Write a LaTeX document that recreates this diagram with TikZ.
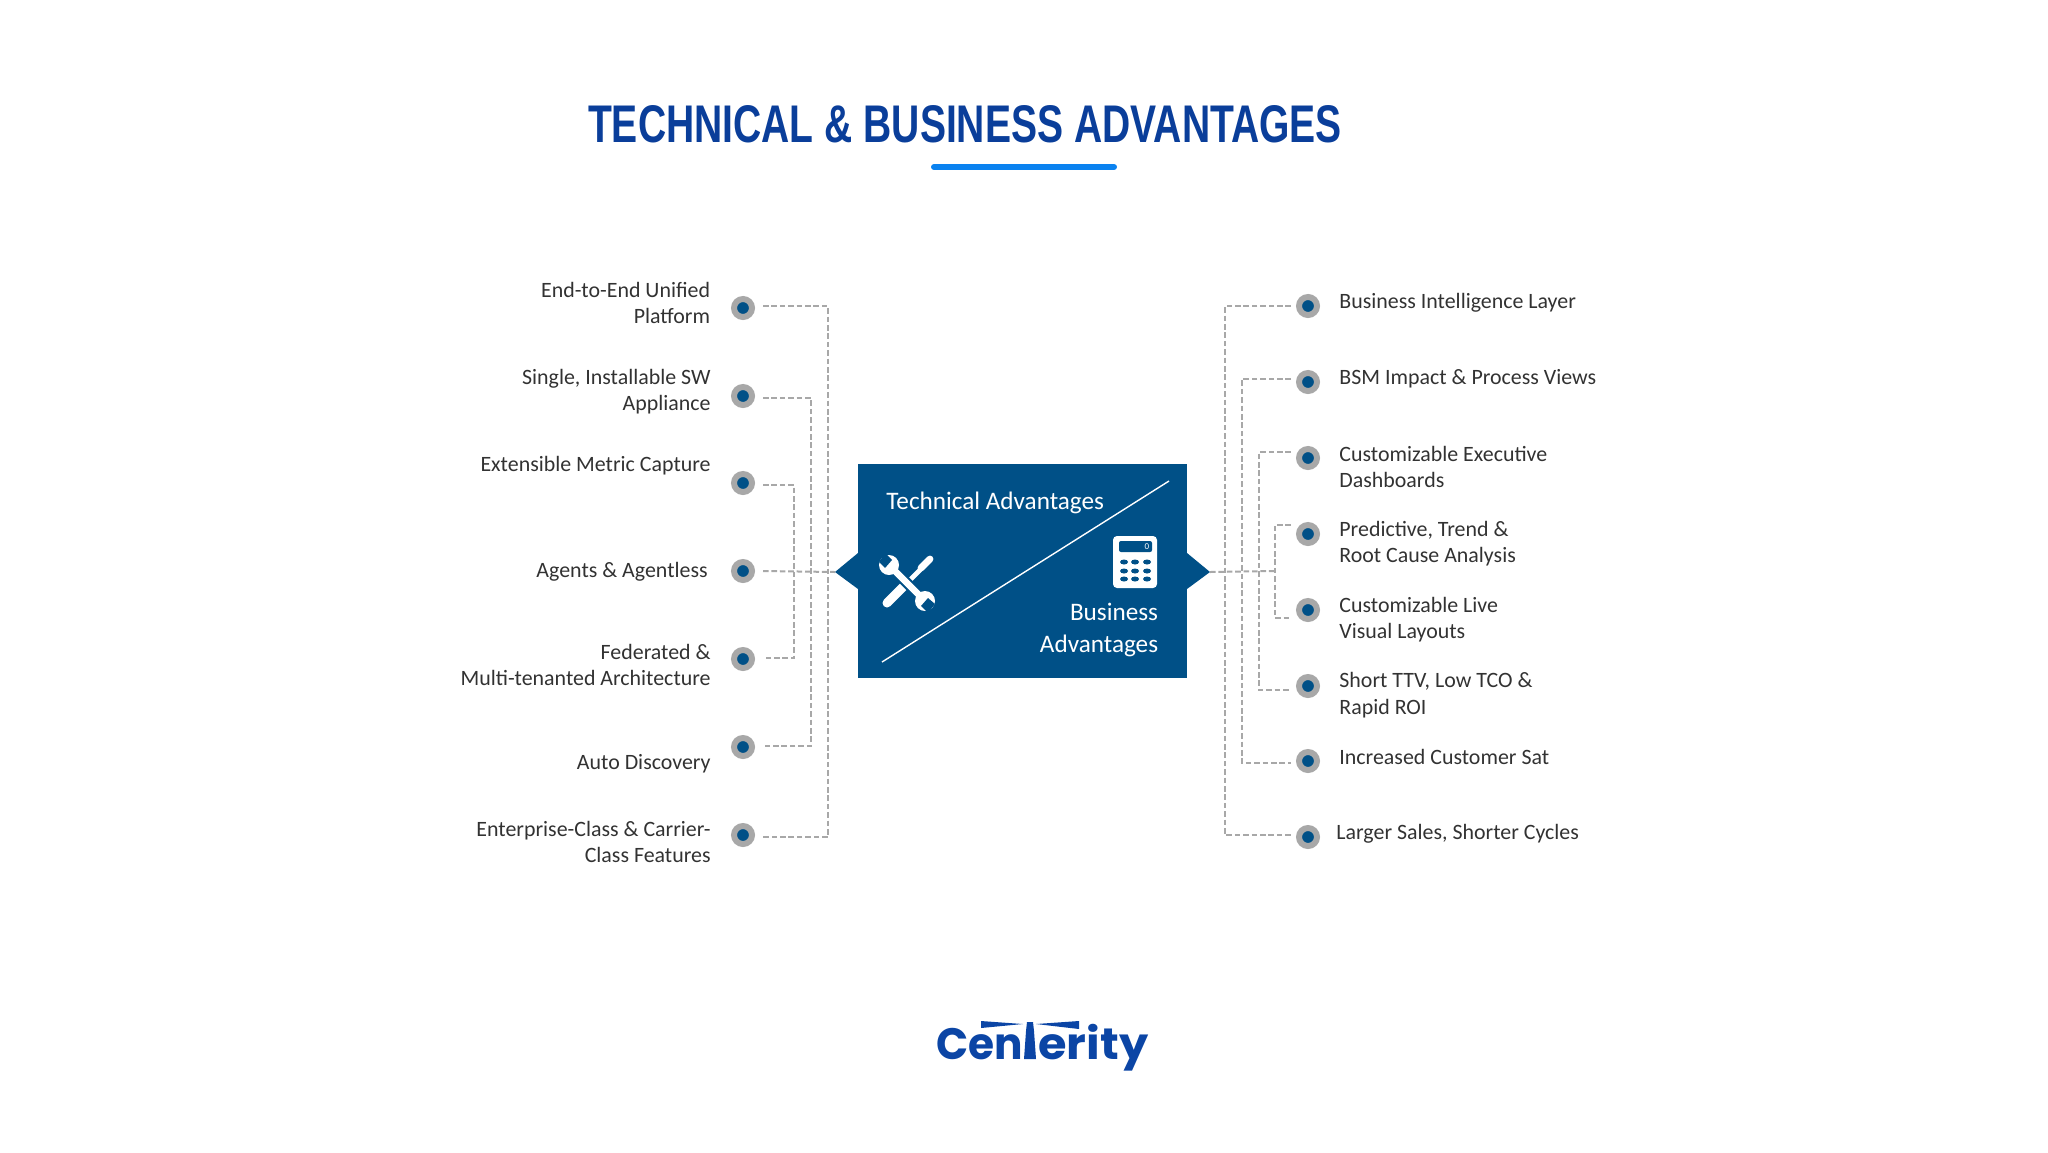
\documentclass[tikz,border=0pt]{standalone}
\usepackage{fontspec}
\usepackage{graphicx}
\setmainfont{Carlito}
\newfontfamily\titlefont[FakeStretch=0.737]{Liberation Sans}
\newfontfamily\logofont{Poppins}
\usepackage{tikz}
\definecolor{boxblue}{RGB}{0,80,135}
\definecolor{titleblue}{RGB}{10,62,154}
\definecolor{barblue}{RGB}{10,130,240}
\definecolor{logoblue}{RGB}{11,69,165}
\definecolor{linegray}{RGB}{168,168,168}
\definecolor{labelgray}{RGB}{50,50,50}
\tikzstyle{dot}=[circle,draw=linegray,line width=3pt,fill=boxblue,minimum size=9pt,inner sep=0pt]
\tikzstyle{link}=[linegray,line width=1pt,dash pattern=on 2.8pt off 1.4pt]
\tikzstyle{lefttext}=[anchor=east,align=right,text=labelgray,font=\fontsize{10.95}{13.2}\selectfont,inner sep=0pt]
\tikzstyle{righttext}=[anchor=west,align=left,text=labelgray,font=\fontsize{10.95}{13.2}\selectfont,inner sep=0pt]
\tikzstyle{boxtext}=[text=white,font=\fontsize{12.6}{15.7}\selectfont,inner sep=0pt]
\tikzstyle{logotext}=[text=logoblue,font=\logofont\bfseries\fontsize{22}{22}\selectfont,inner sep=0pt,anchor=base west]
\begin{document}
\begin{tikzpicture}[x=0.5pt,y=-0.5pt]
\useasboundingbox (0,0) rectangle (2048,1152);
% title
\node (title) [text=titleblue,font=\titlefont\bfseries\fontsize{26.5}{26.5}\selectfont,inner sep=0pt] at (965,124) {TECHNICAL \& BUSINESS ADVANTAGES};
\draw [barblue,line width=3pt,line cap=round] (934,167) -- (1114,167);
% centre box
\node (box) [fill=boxblue,minimum width=164.5pt,minimum height=107pt,inner sep=0pt] at (1022.5,571) {};
\coordinate (tipl) at (835,572);
\coordinate (tipr) at (1210,572);
\fill [boxblue] (858,553) -- (tipl) -- (858,589) -- cycle;
\fill [boxblue] (1187,553) -- (tipr) -- (1187,589) -- cycle;
\draw [white,line width=0.7pt] (882,662) -- (1169,481);
\node (tech) [boxtext,anchor=base west] at (886,509) {Technical Advantages};
\node (bus) [boxtext,anchor=south east,align=right] at (1158.5,657) {Business\\Advantages};
% tools
\draw [white,line width=4.5pt,line cap=round] (887,603) -- (905,585);
\draw [white,line width=2.4pt] (900,590) -- (925,565);
\draw [white,line width=3.4pt,line cap=round] (921,568) -- (930,559);
\draw [boxblue,line width=5.4pt] (895,571) -- (920,596);
\draw [white,line width=3.3pt] (889,565) -- (925,601);
\fill [white] (889,565) circle (10);
\fill [white] (925,601) circle (10);
\fill [boxblue] (879,562) -- (885,553) -- (892,560) -- (885,568) -- cycle;
\fill [boxblue] (935,604) -- (928,613) -- (921,606) -- (928,598) -- cycle;
% calculator
\fill [white,rounded corners=2pt] (1113,536) rectangle (1157,588);
\fill [boxblue,rounded corners=1pt] (1119,541) rectangle (1152,552);
\node (zero) [text=white,font=\fontsize{4.5}{4.5}\selectfont,inner sep=0pt] at (1147,546.5) {0};
\fill [boxblue] (1124,562) ellipse (4 and 2.5) (1135,562) ellipse (4 and 2.5) (1147,562) ellipse (4 and 2.5);
\fill [boxblue] (1124,571) ellipse (4 and 2.5) (1135,571) ellipse (4 and 2.5) (1147,571) ellipse (4 and 2.5);
\fill [boxblue] (1124,579) ellipse (4 and 2.5) (1135,579) ellipse (4 and 2.5) (1147,579) ellipse (4 and 2.5);
% left side
\node (l1) [dot] at (743,308) {};
\node (l2) [dot] at (743,396) {};
\node (l3) [dot] at (743,483) {};
\node (l4) [dot] at (743,571) {};
\node (l5) [dot] at (743,659) {};
\node (l6) [dot] at (743,747) {};
\node (l7) [dot] at (743,835) {};
\node (lt1) [lefttext] at (710.5,303) {End-to-End Unified\\Platform};
\node (lt2) [lefttext] at (711,391.5) {Single, Installable SW\\Appliance};
\node (lt3) [lefttext] at (711,466) {Extensible Metric Capture};
\node (lt4) [lefttext] at (708,572) {Agents \& Agentless};
\node (lt5) [lefttext] at (711,665) {Federated \&\\Multi-tenanted Architecture};
\node (lt6) [lefttext] at (711,764) {Auto Discovery};
\node (lt7) [lefttext] at (711,842) {Enterprise-Class \& Carrier-\\Class Features};
% right side
\node (r1) [dot] at (1308,306) {};
\node (r2) [dot] at (1308,382) {};
\node (r3) [dot] at (1308,458) {};
\node (r4) [dot] at (1308,534) {};
\node (r5) [dot] at (1308,610) {};
\node (r6) [dot] at (1308,686) {};
\node (r7) [dot] at (1308,761) {};
\node (r8) [dot] at (1308,837) {};
\node (rt1) [righttext] at (1339,303) {Business Intelligence Layer};
\node (rt2) [righttext] at (1339,379) {BSM Impact \& Process Views};
\node (rt3) [righttext] at (1339,467) {Customizable Executive\\Dashboards};
\node (rt4) [righttext] at (1339,543.5) {Predictive, Trend \&\\Root Cause Analysis};
\node (rt5) [righttext] at (1339,619.5) {Customizable Live\\Visual Layouts};
\node (rt6) [righttext] at (1339,695) {Short TTV, Low TCO \&\\Rapid ROI};
\node (rt7) [righttext] at (1339,756.5) {Increased Customer Sat};
\node (rt8) [righttext] at (1336,833.5) {Larger Sales, Shorter Cycles};
% left brackets
\coordinate (a1) at (763,306);
\coordinate (a2) at (763,398);
\coordinate (a3) at (763,485);
\coordinate (a4) at (763,571);
\coordinate (a5) at (763,658);
\coordinate (a6) at (763,746);
\coordinate (a7) at (763,837);
\coordinate (va) at (828,571);
\coordinate (vb) at (811,571);
\coordinate (vc) at (794,571);
\draw [link] (a1) -| (va) |- (a7);
\draw [link] (a2) -| (vb) |- (a6);
\draw [link] (a3) -| (vc) |- (a5);
\draw [link] (a4) -- (tipl);
% right brackets
\coordinate (b1) at (1291,306);
\coordinate (b2) at (1291,379);
\coordinate (b3) at (1291,452);
\coordinate (b4) at (1291,525);
\coordinate (b5) at (1291,618);
\coordinate (b6) at (1291,690);
\coordinate (b7) at (1291,763);
\coordinate (b8) at (1291,835);
\coordinate (vd) at (1225,571);
\coordinate (ve) at (1242,571);
\coordinate (vf) at (1259,571);
\coordinate (vg) at (1275,571);
\draw [link] (b1) -| (vd) |- (b8);
\draw [link] (b2) -| (ve) |- (b7);
\draw [link] (b3) -| (vf) |- (b6);
\draw [link] (b4) -| (vg) |- (b5);
\draw [link] (tipr) -- (vg);
% logo
\node (cen) [logotext] at (936,1059) {\scalebox{0.96}[1]{Cen}};
\node (erity) [logotext] at (1038,1059) {\scalebox{1.05}[1]{erity}};
\fill [logoblue] (1024,1059) -- (1026,1031) -- (1027,1022) -- (1033,1022) -- (1034,1031) -- (1036,1059) -- cycle;
\fill [logoblue] (981,1021) -- (1023,1024) -- (981,1028) -- cycle;
\fill [logoblue] (1036,1024) -- (1079,1021) -- (1079,1029) -- cycle;
\end{tikzpicture}
\end{document}
